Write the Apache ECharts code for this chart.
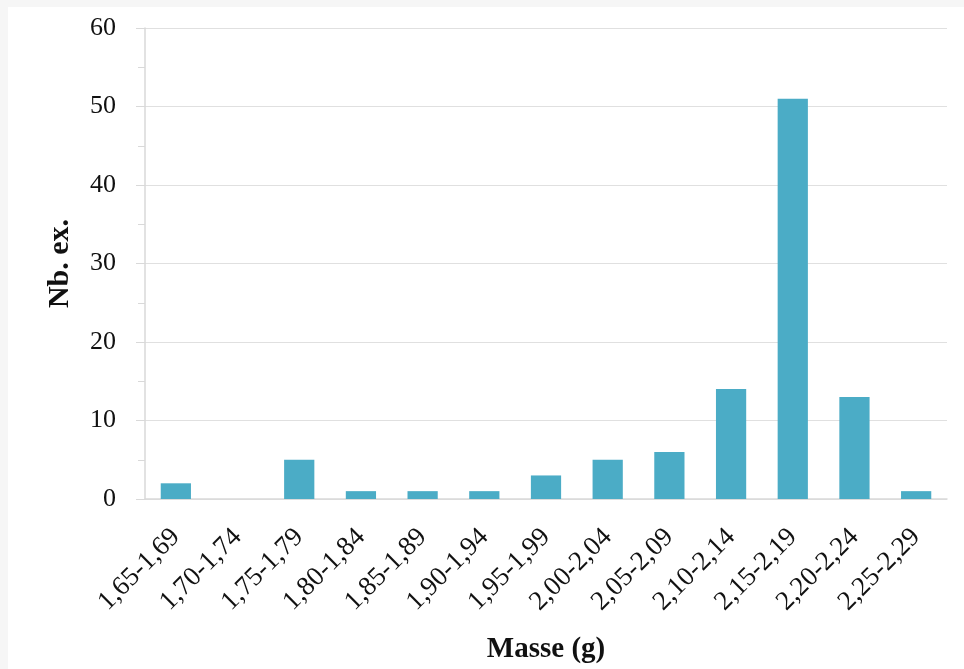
<!DOCTYPE html>
<html><head><meta charset="utf-8">
<script src="https://cdn.jsdelivr.net/npm/echarts@6/dist/echarts.min.js"></script>
<style>
html,body{margin:0;padding:0;background:#f6f6f6;width:964px;height:669px;overflow:hidden}
#wrap{position:absolute;left:8px;top:7px;width:956px;height:662px;background:#fff}
#c{position:absolute;left:-8px;top:-7px;width:964px;height:669px}
</style></head>
<body><div id="wrap"><div id="c"></div></div>
<script>
var categories = ["1,65-1,69","1,70-1,74","1,75-1,79","1,80-1,84","1,85-1,89","1,90-1,94","1,95-1,99","2,00-2,04","2,05-2,09","2,10-2,14","2,15-2,19","2,20-2,24","2,25-2,29"];
var counts = [2,0,5,1,1,1,3,5,6,14,51,13,1];
var yMax = 60, yStep = 10;
var xName = "Masse (g)", yName = "Nb. ex.";
var font = "'Liberation Serif', 'DejaVu Serif', serif";
var chart = echarts.init(document.getElementById('c'), null, {renderer:'canvas'});
chart.setOption({
  animation:false,
  grid:{left:145, right:17, top:28, bottom:169},
  xAxis:{type:'category', data:categories,
    axisLine:{lineStyle:{color:'#d9d9d9', width:1.5}},
    axisTick:{show:false},
    axisLabel:{rotate:45, color:'#111', fontFamily:font, fontSize:27, margin:34, interval:0},
    name:xName, nameLocation:'middle', nameGap:136,
    nameTextStyle:{fontFamily:font, fontWeight:'bold', fontSize:29, color:'#111'}
  },
  yAxis:{type:'value', min:0, max:yMax, interval:yStep,
    axisLine:{show:true, lineStyle:{color:'#d9d9d9', width:1.5}},
    axisTick:{show:true, length:9, lineStyle:{color:'#d9d9d9'}},
    minorTick:{show:true, splitNumber:2, length:7, lineStyle:{color:'#d9d9d9'}},
    splitLine:{lineStyle:{color:'#e0e0e0', width:1.2}},
    axisLabel:{color:'#111', fontFamily:font, fontSize:26, margin:29},
    name:yName, nameLocation:'middle', nameGap:70, nameRotate:90,
    nameTextStyle:{fontFamily:font, fontWeight:'bold', fontSize:30, color:'#111'}
  },
  series:[{type:'bar', data:counts, barWidth:'49%',
    itemStyle:{color:'#4BACC6'}}]
});
</script></body></html>
